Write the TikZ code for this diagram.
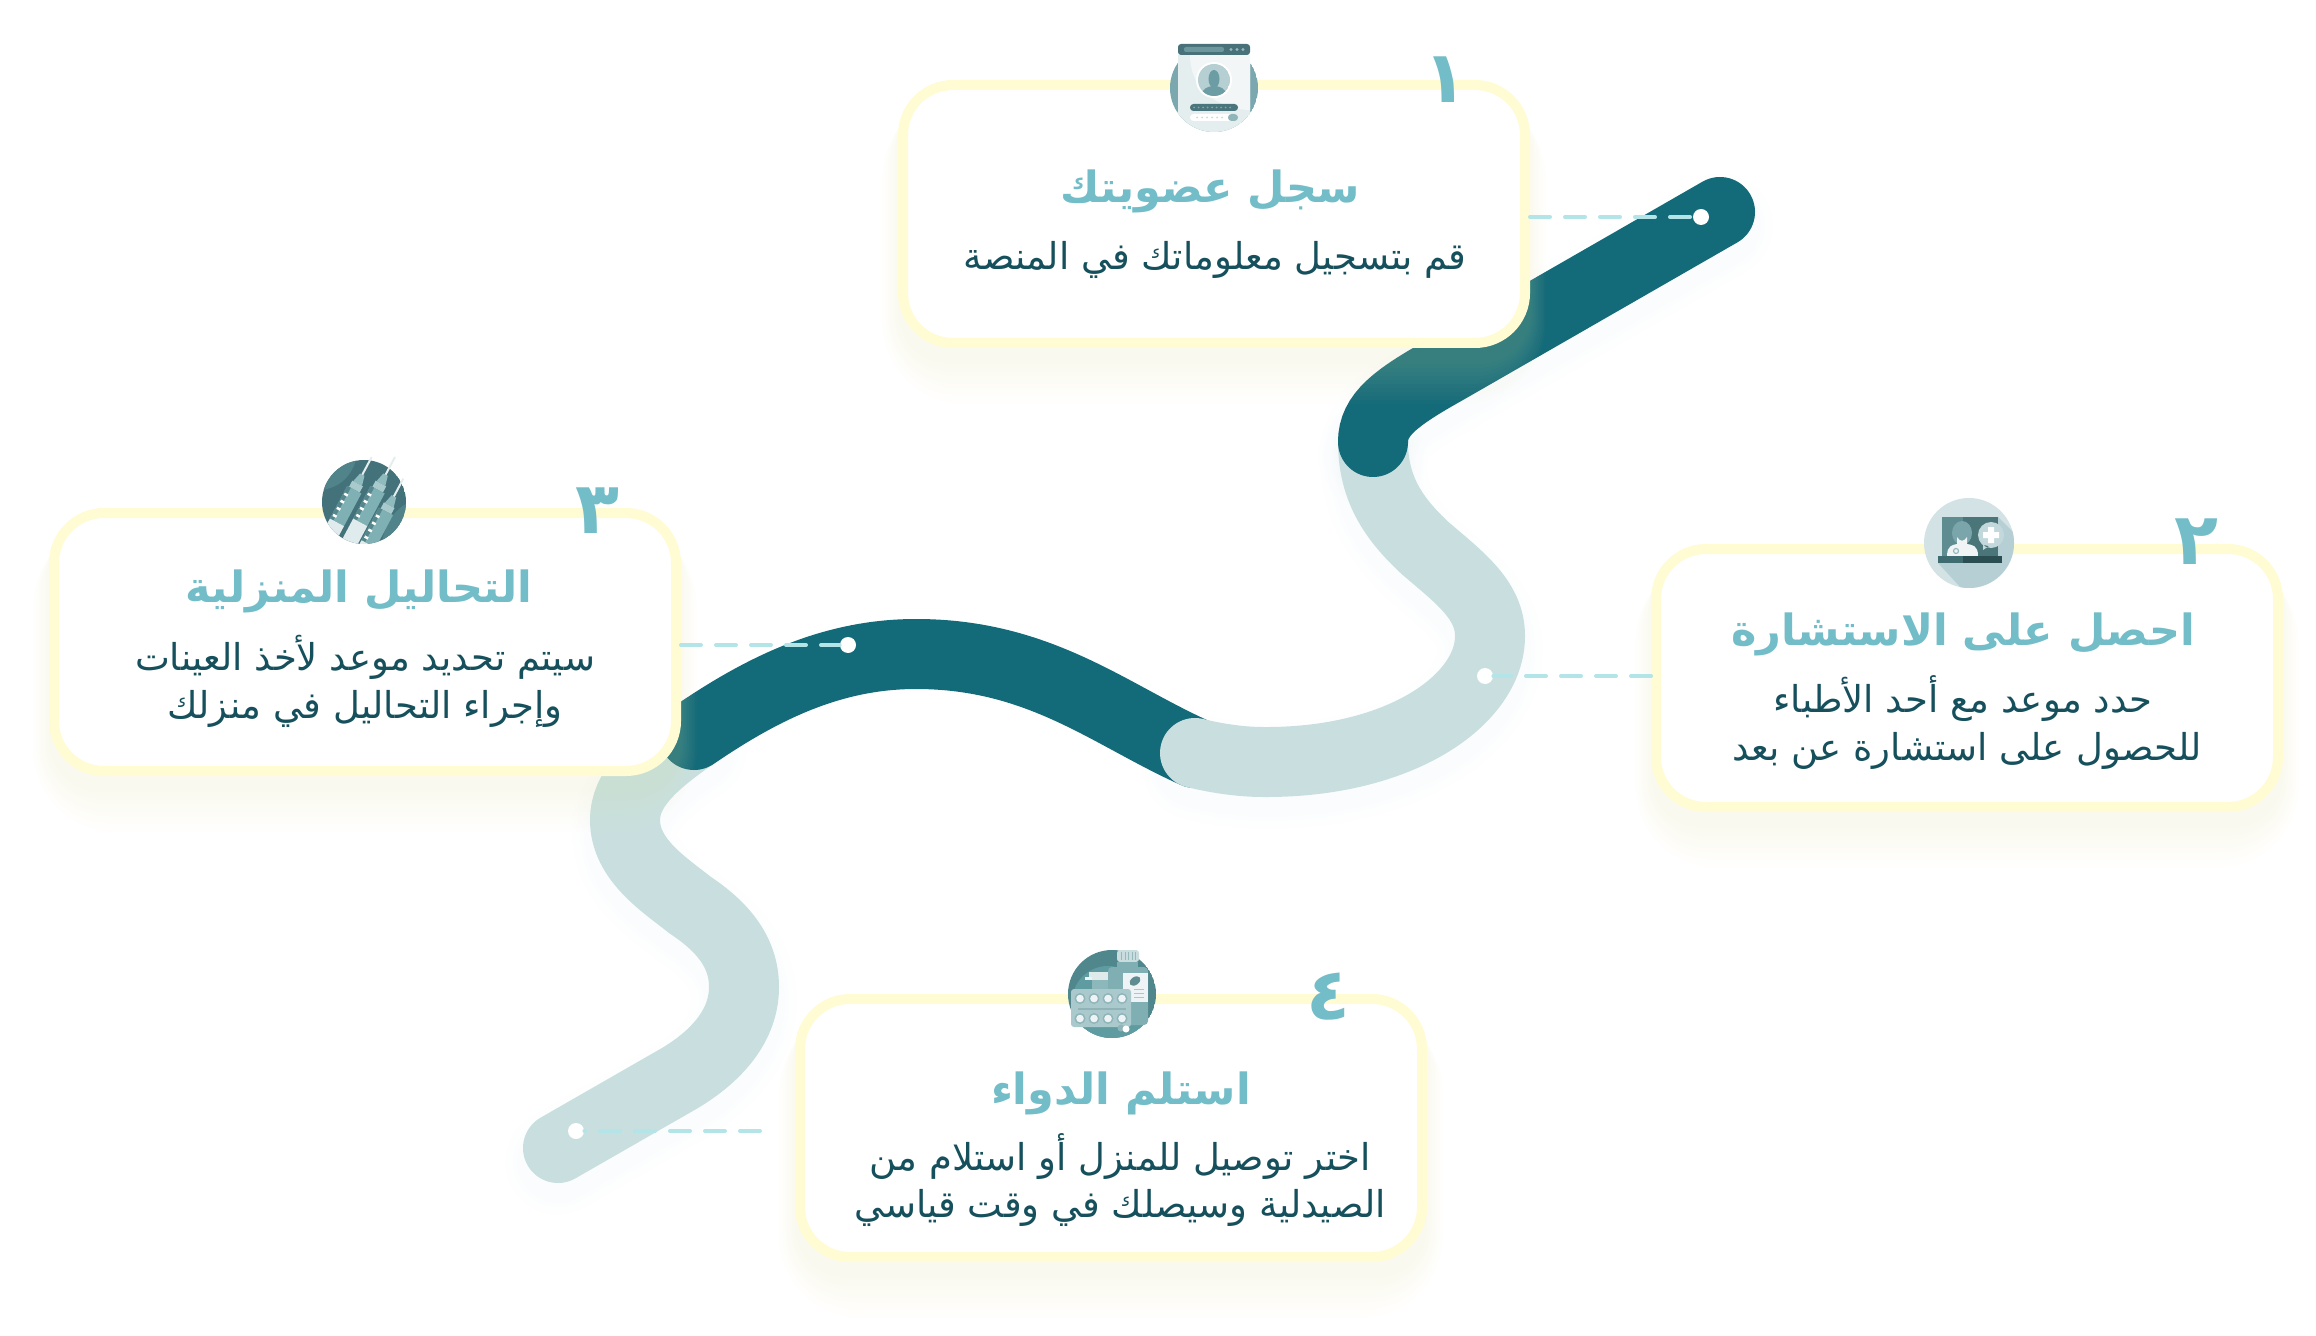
\documentclass[tikz,border=0pt]{standalone}
\usepackage{fontspec}
\usetikzlibrary{calc}
\TeXXeTstate=1
\newfontfamily\arabicfont[Script=Arabic]{DejaVu Sans}
\newcommand{\ar}[1]{\beginR #1\endR}
\definecolor{ribbondark}{HTML}{136A78}
\definecolor{ribbonlight}{HTML}{C9DFDF}
\definecolor{cardline}{HTML}{FFFBD2}
\definecolor{cardglow}{HTML}{E8E2B0}
\definecolor{ribbonglow}{HTML}{8FB8CC}
\definecolor{titleteal}{HTML}{72BDC8}
\definecolor{bodyteal}{HTML}{15505C}
\definecolor{dashteal}{HTML}{B2E4E8}
\tikzset{
	ribbondarkline/.style={line width=35pt,line cap=round,draw=ribbondark},
	ribbonlightline/.style={line width=35pt,line cap=round,draw=ribbonlight},
	cardbox/.style={draw=cardline,fill=white,line width=5pt,rounded corners=25pt,minimum width=311pt,minimum height=129pt},
	titletext/.style={font=\arabicfont\bfseries\fontsize{21.5}{21.5}\selectfont,text=titleteal,inner sep=0pt},
	bodytext/.style={font=\arabicfont\fontsize{18.5}{18.5}\selectfont,text=bodyteal,inner sep=0pt},
	numbertext/.style={font=\arabicfont\bfseries\fontsize{36}{36}\selectfont,text=titleteal,inner sep=0pt},
	dotmark/.style={circle,fill=white,minimum size=8pt,inner sep=0pt},
	dashline/.style={draw=dashteal,line width=2pt,line cap=round,dash pattern=on 10pt off 7.5pt},
	userpic/.pic={
		\begin{scope}
			\clip (0,0) circle(44);
			\fill[fill={rgb,255:red,122;green,168;blue,174}] (0,0) circle(44);
			\fill[fill={rgb,255:red,229;green,238;blue,239}] (-36,-44) rectangle (36,44) (-44,24) rectangle (44,44);
		\end{scope}
		\fill[fill={rgb,255:red,242;green,246;blue,247}] (-36,-33) -- (36,-33) -- (36,22) .. controls (14,22) and (-24,8) .. (-24,-33) -- cycle;
		\fill[fill={rgb,255:red,229;green,238;blue,239}] (-36,-33) rectangle (-24,0);
		\fill[fill={rgb,255:red,72;green,113;blue,122},rounded corners=1.5pt] (-36,-44) rectangle (36,-33);
		\fill[fill={rgb,255:red,109;green,151;blue,158},rounded corners=1pt] (-30,-41) rectangle (10,-36);
		\foreach \x in {17,23,29}{\fill[fill={rgb,255:red,150;green,185;blue,190}] (\x,-38.5) circle(1.6);}
		\fill[white] (0,-8) circle(18);
		\begin{scope}
			\clip (0,-8) circle(16);
			\fill[fill={rgb,255:red,182;green,207;blue,210}] (0,-8) circle(16);
			\fill[fill={rgb,255:red,108;green,157;blue,164}] (0,6) ellipse (12 and 8);
			\fill[fill={rgb,255:red,108;green,157;blue,164}] (0,-9) ellipse (5.5 and 9);
		\end{scope}
		\fill[fill={rgb,255:red,74;green,117;blue,124},rounded corners=1.7pt] (-24,16) rectangle (24,23);
		\fill[white,rounded corners=1.7pt] (-24,26) rectangle (24,33);
		\fill[fill={rgb,255:red,143;green,181;blue,185},rounded corners=1.7pt] (14,26) rectangle (24,33);
		\foreach \x in {-20,-15.5,...,20}{\fill[fill={rgb,255:red,130;green,165;blue,170}] (\x,19.5) circle(1);}
		\foreach \x in {-17,-12,...,8}{\fill[fill={rgb,255:red,200;green,218;blue,220}] (\x,29.5) circle(1);}
	},
	doctorpic/.pic={
		\fill[fill={rgb,255:red,211;green,226;blue,228}] (0,0) circle(45);
		\begin{scope}
			\clip (0,0) circle(45);
			\fill[fill={rgb,255:red,182;green,207;blue,213}] (-31,20) -- (-7,46) -- (50,50) -- (50,-5) -- (29,-26) -- cycle;
		\end{scope}
		\fill[fill={rgb,255:red,95;green,140;blue,144}] (-27,-26) rectangle (-6,13);
		\fill[fill={rgb,255:red,74;green,117;blue,121}] (-6,-26) rectangle (29,13);
		\fill[fill={rgb,255:red,122;green,165;blue,170}] (-7,-10) ellipse (10 and 12);
		\fill[fill={rgb,255:red,240;green,244;blue,244}] (-22,13) .. controls (-22,2) and (-16,2) .. (-12,1) -- (-12,-6) .. controls (-9,-1) and (-5,-1) .. (-2,-6) -- (-2,1) .. controls (3,2) and (9,2) .. (9,13) -- cycle;
		\draw[draw={rgb,255:red,150;green,185;blue,190},line width=.6pt] (-13,8) circle(2.5);
		\fill[fill={rgb,255:red,63;green,108;blue,113}] (-31,13) rectangle (-6,20);
		\fill[fill={rgb,255:red,43;green,78;blue,82}] (-6,13) rectangle (33,20);
		\fill[fill={rgb,255:red,195;green,216;blue,219}] (22,-8) circle(13) (14,2) -- (14,7) -- (20,3) -- cycle;
		\fill[white] (14,-11) rectangle (30,-5) (19,-16) rectangle (25,0);
	},
	syringepic/.pic={
		\begin{scope}
			\clip (0,0) circle(42);
			\fill[fill={rgb,255:red,68;green,114;blue,122}] (0,0) circle(42);
			\fill[fill={rgb,255:red,81;green,131;blue,139}] (-42,-42) -- (-8,-42) .. controls (-14,-22) and (-28,-14) .. (-42,-12) -- cycle;
			\fill[fill={rgb,255:red,81;green,131;blue,139}] (42,42) -- (18,42) .. controls (20,24) and (28,10) .. (42,2) -- cycle;
			\foreach \x/\y in {7.7/-45,31/-45,39.3/-23.3}{
				\begin{scope}[shift={(\x,\y)},rotate=-28]
					\fill[fill={rgb,255:red,143;green,187;blue,190}] (-2.5,20) -- (2.5,20) -- (5,30) -- (-5,30) -- cycle;
					\fill[fill={rgb,255:red,169;green,202;blue,204}] (-6,30) rectangle (6,37);
					\fill[fill={rgb,255:red,127;green,176;blue,180}] (-8,37) rectangle (8,74);
					\fill[fill={rgb,255:red,85;green,135;blue,140}] (-8,37) rectangle (-4,74);
					\foreach \m in {44,52,60,68}{\fill[white] (-7,\m) rectangle (-3,\m+2.5);}
					\fill[fill={rgb,255:red,223;green,235;blue,236}] (-8,74) rectangle (8,100);
					\fill[fill={rgb,255:red,68;green,114;blue,122}] (-8,100) rectangle (8,110);
				\end{scope}
			}
		\end{scope}
		\foreach \x/\y in {7.7/-45,31/-45,39.3/-23.3}{
			\begin{scope}[shift={(\x,\y)},rotate=-28]
				\fill[fill={rgb,255:red,228;green,238;blue,239}] (-1,0) rectangle (1,20);
			\end{scope}
		}
	},
	medpic/.pic={
		\begin{scope}
			\clip (0,0) circle(44);
			\fill[fill={rgb,255:red,79;green,135;blue,140}] (0,0) circle(44);
			\fill[fill={rgb,255:red,95;green,156;blue,162}] (-4,8) circle(36);
			\fill[fill={rgb,255:red,95;green,156;blue,162}] (-44,26) rectangle (44,44);
		\end{scope}
		\fill[fill={rgb,255:red,201;green,220;blue,222},rounded corners=1.5pt] (5,-44) rectangle (27,-32);
		\foreach \x in {9,12.5,...,24}{\fill[fill={rgb,255:red,150;green,185;blue,190}] (\x,-42) rectangle (\x+1,-34);}
		\fill[fill={rgb,255:red,127;green,174;blue,179}] (5,-32) rectangle (26,-27);
		\fill[fill={rgb,255:red,127;green,174;blue,179},rounded corners=2pt] (-4,-27) rectangle (36,31);
		\fill[fill={rgb,255:red,238;green,244;blue,245}] (11,-21) rectangle (36,8);
		\fill[fill={rgb,255:red,95;green,140;blue,144},rotate around={35:(23,-13)}] (23,-13) ellipse (6 and 4);
		\foreach \y in {-5,-1,3}{\fill[fill={rgb,255:red,170;green,200;blue,204}] (22,\y) rectangle (32,\y+1);}
		\fill[fill={rgb,255:red,223;green,234;blue,235}] (-23,-22) rectangle (-4,-14);
		\fill[fill={rgb,255:red,238;green,244;blue,245}] (-27,-17) rectangle (-20,-14);
		\fill[fill={rgb,255:red,140;green,184;blue,187}] (-20,-14) rectangle (-4,-5);
		\fill[fill={rgb,255:red,170;green,201;blue,204},rounded corners=1.5pt] (-41,-5) rectangle (19,33);
		\fill[fill={rgb,255:red,143;green,179;blue,183}] (-34,13.5) rectangle (14,15.5);
		\foreach \x in {-32,-18,-4,10}{\foreach \y in {4.5,24.5}{
			\fill[fill={rgb,255:red,143;green,181;blue,185}] (\x,\y) circle(5.5);
			\fill[fill={rgb,255:red,238;green,244;blue,245}] (\x,\y) circle(3.8);
		}}
		\fill[fill={rgb,255:red,143;green,181;blue,185}] (9,34) circle(3.5);
		\fill[white] (14,35) circle(3.5);
	}
}
\def\ribbondarkone{(1720,212) -- (1445,370) .. controls (1395,398) and (1373,415) .. (1373,442)}
\def\ribbonlightone{(1373,442) .. controls (1373,490) and (1395,520) .. (1425,548) .. controls (1460,578) and (1490,600) .. (1490,636) .. controls (1490,700) and (1400,763) .. (1263,762) .. controls (1240,762) and (1215,758) .. (1195,753)}
\def\ribbondarktwo{(1195,753) .. controls (1110,715) and (1040,654) .. (916,654) .. controls (830,654) and (760,690) .. (694,735)}
\def\ribbonlighttwo{(694,735) .. controls (650,765) and (625,790) .. (625,820) .. controls (625,860) and (665,885) .. (690,905) .. controls (720,925) and (744,950) .. (744,987) .. controls (744,1030) and (710,1060) .. (680,1078) -- (558,1148)}
\begin{document}
\begin{tikzpicture}[x=0.5pt,y=-0.5pt]
	\useasboundingbox (0,0) rectangle (2316,1336);
	\foreach \w in {35,37,...,55}{
		\draw[draw=ribbonglow,line width=\w pt,line cap=round,opacity=.005,shift={(0,14)}] \ribbondarkone;
		\draw[draw=ribbonglow,line width=\w pt,line cap=round,opacity=.002,shift={(0,14)}] \ribbonlightone;
		\draw[draw=ribbonglow,line width=\w pt,line cap=round,opacity=.002,shift={(0,14)}] \ribbonlighttwo;
	}
	\draw[ribbonlightline] \ribbonlighttwo;
	\draw[ribbondarkline] \ribbondarktwo;
	\draw[ribbonlightline] \ribbonlightone;
	\draw[ribbondarkline] \ribbondarkone;
	\foreach \n/\x/\y in {dotone/1701/217,dottwo/1485/676,dotthree/848/645,dotfour/576/1131}{
		\node[dotmark] (\n) at (\x,\y) {};
	}
	\foreach \n/\x/\y in {cardone/1214/214,cardtwo/1967/678,cardthree/365/642,cardfour/1111/1128}{
		\coordinate (g\n) at (\x,\y);
		\foreach \s in {0,4,...,40}{
			\pgfmathsetmacro\r{25+\s*.4}
			\pgfmathsetmacro\e{316+\s*.4}
			\fill[cardglow,opacity=.018,rounded corners=\r pt] ($(g\n)+(-\e,-118)$) rectangle ($(g\n)+(\e,150+\s)$);
		}
		\node[cardbox] (\n) at (\x,\y) {};
	}
	\coordinate (endfour) at (760,1131);
	\draw[dashline] (cardone.east |- dotone) -- (dotone);
	\draw[dashline] (cardtwo.west |- dottwo) -- (dottwo);
	\draw[dashline] (cardthree.east |- dotthree) -- (dotthree);
	\draw[dashline] (endfour) -- (dotfour);
	\pic (iconone) at (1214,88) {userpic};
	\pic (icontwo) at (1969,543) {doctorpic};
	\pic (iconthree) at (364,502) {syringepic};
	\pic (iconfour) at (1112,994) {medpic};
	\foreach \n/\x/\y/\t in {numone/1445/80/١,numtwo/2196/542/٢,numthree/597/511/٣,numfour/1328/997/٤}{
		\node[numbertext] (\n) at (\x,\y) {\ar{\t}};
	}
	\foreach \n/\x/\y/\t in {titleone/1210/191/سجل عضويتك,titletwo/1963/634/احصل على الاستشارة,titlethree/359/591/التحاليل المنزلية,titlefour/1121/1093/استلم الدواء}{
		\node[titletext] (\n) at (\x,\y) {\ar{\t}};
	}
	\foreach \n/\x/\y/\t in {bodyone/1215/260/قم بتسجيل معلوماتك في المنصة,
		bodytwoa/1963/699/حدد موعد مع أحد الأطباء,bodytwob/1967/751/للحصول على استشارة عن بعد,
		bodythreea/365/657/سيتم تحديد موعد لأخذ العينات,bodythreeb/365/709/وإجراء التحاليل في منزلك,
		bodyfoura/1120/1157/اختر توصيل للمنزل أو استلام من,bodyfourb/1120/1208/الصيدلية وسيصلك في وقت قياسي}{
		\node[bodytext] (\n) at (\x,\y) {\ar{\t}};
	}
\end{tikzpicture}
\end{document}
